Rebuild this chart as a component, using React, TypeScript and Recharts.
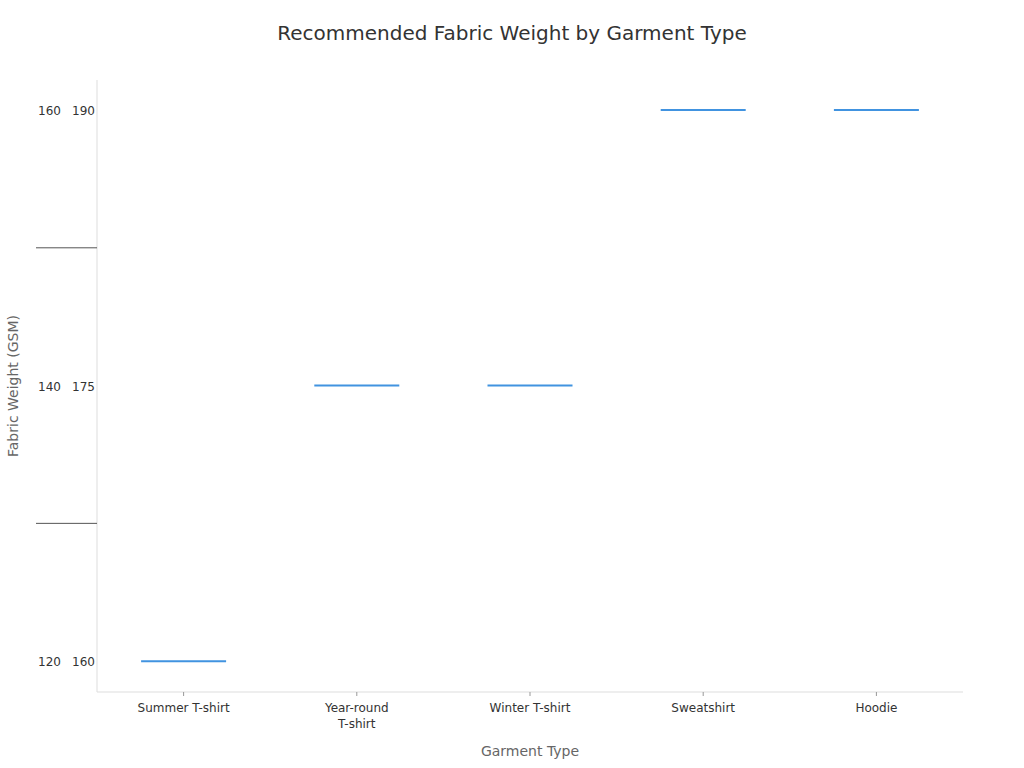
import { ComposedChart, Scatter, XAxis, YAxis } from 'recharts'

// garment types along the x axis
const garments = ['Summer T-shirt', 'Year-round T-shirt', 'Winter T-shirt', 'Sweatshirt', 'Hoodie']
// recommended GSM range per garment
const minGsm = [120, 140, 140, 160, 160]
const maxGsm = [160, 175, 175, 190, 190]

// distinct ranges shown as the y categories, bottom to top
const rangeMins = [120, 140, 160]
const rangeMaxs = [160, 175, 190]

const levelOf = (lo: number, hi: number) =>
  rangeMins.findIndex((m, i) => m === lo && rangeMaxs[i] === hi)

const data = garments.map((g, i) => ({
  garment: g,
  level: levelOf(minGsm[i], maxGsm[i]),
}))

const yTicks = [0, 0.5, 1, 1.5, 2]
const tickStyle = { fontSize: 12, fontFamily: 'DejaVu Sans' }

function YTick(props: any) {
  const { x, y, payload } = props
  const v = payload.value as number
  if (!Number.isInteger(v)) {
    // separator between range bands, drawn out to the left of the axis
    return <line x1={36} x2={x + 2} y1={y} y2={y} stroke="#555" strokeWidth={1} />
  }
  return (
    <g>
      <text x={x - 34} y={y} dy={5} textAnchor="end" fill="#333" style={tickStyle}>
        {rangeMins[v]}
      </text>
      <text x={x} y={y} dy={5} textAnchor="end" fill="#333" style={tickStyle}>
        {rangeMaxs[v]}
      </text>
    </g>
  )
}

// long labels break at their last space
function splitLabel(s: string): string[] {
  if (s.length <= 15) return [s]
  const i = s.lastIndexOf(' ')
  return i > 0 ? [s.slice(0, i), s.slice(i + 1)] : [s]
}

function XTick(props: any) {
  const { x, y, payload } = props
  const lines = splitLabel(String(payload.value))
  return (
    <text x={x} y={y + 4} textAnchor="middle" fill="#333" style={tickStyle}>
      {lines.map((l, i) => (
        <tspan key={i} x={x} dy={i === 0 ? 10 : 16}>
          {l}
        </tspan>
      ))}
    </text>
  )
}

function RangeMark(props: any) {
  const { cx, cy } = props
  return <line x1={cx - 42.5} x2={cx + 42.5} y1={cy} y2={cy} stroke="#4193e0" strokeWidth={2} />
}

export default function App() {
  return (
    <div style={{ position: 'absolute', left: 0, top: 0, width: 1024, height: 768, background: '#fff', fontFamily: 'DejaVu Sans' }}>
      <div style={{ position: 'absolute', top: 21, width: 1024, textAlign: 'center', fontSize: 20, color: '#333' }}>
        Recommended Fabric Weight by Garment Type
      </div>
      <ComposedChart width={1024} height={768} data={data} margin={{ top: 80, right: 61, bottom: 0, left: 0 }}>
        <XAxis
          dataKey="garment"
          type="category"
          scale="band"
          height={76}
          stroke="#ddd"
          tickLine={{ stroke: '#999' }}
          tickSize={4}
          interval={0}
          tick={<XTick />}
          label={{ value: 'Garment Type', position: 'insideBottom', offset: 12, fill: '#666', fontSize: 14 }}
        />
        <YAxis
          type="number"
          domain={[-0.112, 2.109]}
          ticks={yTicks}
          width={97}
          stroke="#ddd"
          tickLine={false}
          tickSize={0}
          tickMargin={2}
          tick={<YTick />}
          label={{ value: 'Fabric Weight (GSM)', angle: -90, position: 'insideLeft', offset: 13, fill: '#666', fontSize: 14, style: { textAnchor: 'middle' } }}
        />
        <Scatter dataKey="level" shape={<RangeMark />} isAnimationActive={false} />
      </ComposedChart>
    </div>
  )
}
